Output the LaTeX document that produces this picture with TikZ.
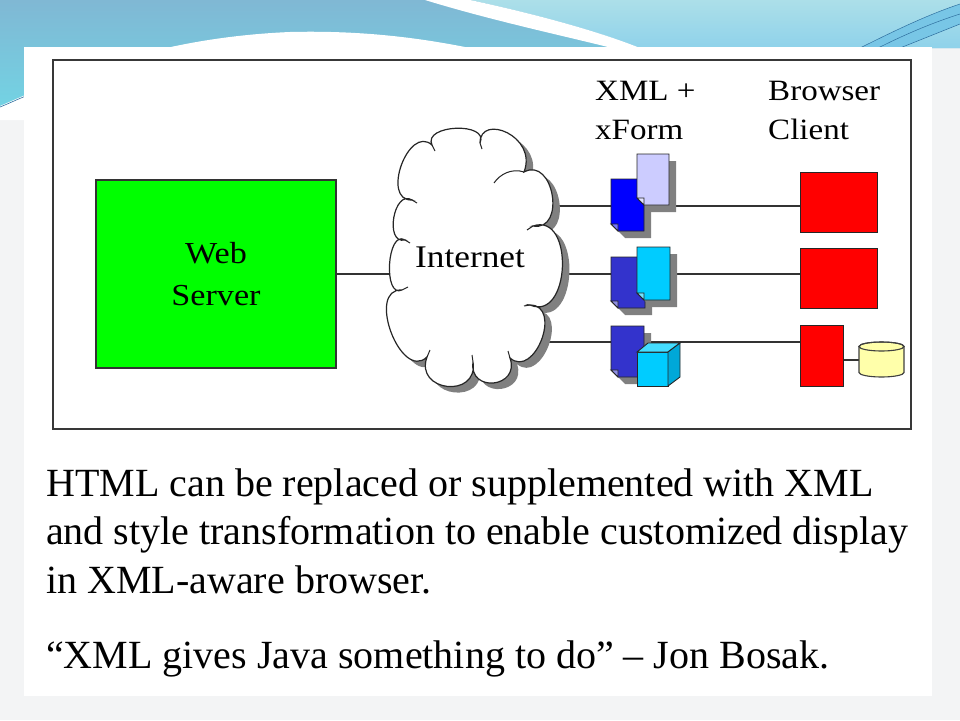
\documentclass[tikz,border=0pt]{standalone}
\usepackage{fontspec}
\setmainfont{Liberation Serif}
\newfontfamily\dfont[FakeStretch=1.12]{Liberation Serif}
\definecolor{bgc}{HTML}{F3F4F5}
\definecolor{bandtop}{HTML}{80B8D4}
\definecolor{bandbot}{HTML}{72D4E4}
\definecolor{lighttop}{HTML}{ACDFE9}
\definecolor{lightbot}{HTML}{8FD2EA}
\definecolor{wedge}{HTML}{78C6E6}
\definecolor{thinline}{HTML}{2F6F9F}
\definecolor{lavdoc}{HTML}{CCCCFF}
\definecolor{bluedoc}{HTML}{0000FF}
\definecolor{navydoc}{HTML}{3333CC}
\definecolor{cyandoc}{HTML}{00CCFF}
\definecolor{cubetop}{HTML}{44DDFF}
\definecolor{cubeside}{HTML}{00A8D8}
\definecolor{redc}{HTML}{FF0000}
\definecolor{greenc}{HTML}{00FF00}
\definecolor{cylc}{HTML}{FFFFAA}
\definecolor{shadowc}{HTML}{808080}
\definecolor{linec}{HTML}{333333}
\tikzset{
  conn/.style={draw=linec, line width=1.3},
  docline/.style={draw=black!85, line width=0.9},
  docshadow/.style={fill=shadowc},
  redbox/.style={draw=black!85, line width=1, fill=redc, inner sep=0},
  wsbox/.style={draw=black!80, line width=1.1, fill=greenc, inner sep=0},
  lbl/.style={inner sep=0, font=\dfont\fontsize{29.5}{35}\selectfont},
  btext/.style={inner sep=0, anchor=base west, font=\fontsize{40}{48}\selectfont},
}
\newcommand\cloudpath{(412,200)
 .. controls (380.5,201) and (408.5,124) .. (432,145)
 .. controls (422.4,124.4) and (489.6,121.6) .. (480,143)
 .. controls (480,113) and (538,136) .. (524,172)
 .. controls (553.8,156.1) and (566.4,231.7) .. (533,226)
 .. controls (574.8,211.8) and (570.6,322.4) .. (530,305)
 .. controls (562.8,305.1) and (534.8,379.3) .. (510,358)
 .. controls (520.4,387.8) and (468.6,393.4) .. (473,362)
 .. controls (478.6,398.9) and (414.2,391.9) .. (427,357)
 .. controls (400.7,382) and (365.7,288.2) .. (402,290)
 .. controls (382.8,298.9) and (387,228.9) .. (405,240)
 .. controls (384,244.6) and (393.8,188.6) .. (412,200) -- cycle}
\newcommand\mydoc[5]{%
  \fill[docshadow] (#1+7,#2+7) -- (#3+7,#2+7) -- (#3+7,#4+7) -- (#1+14,#4+7) -- (#1+7,#4) -- cycle;
  \filldraw[docline, fill=#5] (#1,#2) -- (#3,#2) -- (#3,#4) -- (#1+7,#4) -- (#1,#4-7) -- cycle;
  \filldraw[docline, fill=#5!55!white] (#1,#4-7) -- (#1+7,#4-7) -- (#1+7,#4) -- cycle;
}
\begin{document}
\begin{tikzpicture}[x=1pt,y=-1pt]
\useasboundingbox (0,0) rectangle (960,720);
% background
\fill[bgc] (0,0) rectangle (960,720);
% top band
\shade[top color=bandtop, bottom color=bandbot] (0,0) -- (960,0) -- (960,48) -- (24,48) -- (24,112) -- (0,112) -- cycle;
\shade[top color=lighttop, bottom color=lightbot] (470,0) .. controls (540,15) and (600,32) .. (640,48) -- (960,48) -- (960,0) -- cycle;
\fill[white] (425,0) .. controls (490,20) and (560,35) .. (612,48) -- (640,48) .. controls (600,32) and (540,15) .. (470,0) -- cycle;
\fill[white] (0,106) .. controls (60,80) and (150,38) .. (290,32) .. controls (370,30) and (430,40) .. (470,48) -- (470,120) -- (0,120) -- cycle;
\draw[thinline, line width=0.6] (0,107) .. controls (10,103) and (18,99) .. (26,96);
\fill[wedge] (860,48) .. controls (900,28) and (930,14) .. (960,4) -- (960,24) .. controls (940,32) and (920,40) .. (900,48) -- cycle;
\draw[thinline, line width=0.5] (860,48) .. controls (900,28) and (930,14) .. (960,4);
\draw[thinline, line width=0.5] (878,48) .. controls (910,32) and (935,22) .. (960,14);
\draw[thinline, line width=0.5] (900,48) .. controls (920,40) and (940,32) .. (960,24);
% panel
\fill[white] (24,47) rectangle (932,696);
% frame
\draw[draw=black!78, line width=1.8] (53,60) rectangle (911,429);
% nodes
\node[wsbox, minimum width=240, minimum height=188, align=center, font=\dfont\fontsize{30.5}{42}\selectfont] (web) at (216,274) {Web\\Server};
\node[redbox, minimum width=77, minimum height=60] (rb1) at (838.5,202) {};
\node[redbox, minimum width=77, minimum height=60] (rb2) at (838.5,278) {};
\node[redbox, minimum width=43, minimum height=61] (rb3) at (821.5,355.5) {};
\node[inner sep=0, minimum width=45, minimum height=35] (db) at (881.5,360) {};
% cloud anchor coordinates
\coordinate (cl0) at (405,274);
\coordinate (cr1) at (540,206);
\coordinate (cr2) at (545,274);
\coordinate (cr3) at (530,342);
% connectors
\draw[conn] (web.east) -- (cl0);
\draw[conn] (cr1) -- (cr1 -| rb1.west);
\draw[conn] (cr2) -- (cr2 -| rb2.west);
\draw[conn] (cr3) -- (cr3 -| rb3.west);
\draw[conn] (rb3.east |- db.west) -- (db.west);
% cloud
\fill[shadowc, shift={(7,6)}] \cloudpath;
\filldraw[fill=white, draw=black!85, line width=1.2] \cloudpath;
\begin{scope}[draw=black!85, line width=1]
\draw (524,172) .. controls (512,168) and (500,174) .. (494,183);
\draw (432,145) -- (435,151);
\draw (480,143) -- (482,149);
\draw (533,226) -- (527,230);
\draw (530,305) -- (524,306);
\draw (510,358) -- (508,351);
\draw (473,362) -- (472,355);
\draw (427,357) -- (430,350);
\draw (402,290) -- (408,287);
\draw (405,240) -- (410,243);
\draw (412,200) -- (417,203);
\end{scope}
\node[inner sep=0, anchor=base, font=\dfont\fontsize{31.5}{36}\selectfont] (inet) at (470,267) {Internet};
% documents row 1
\mydoc{611}{179}{644}{231}{bluedoc}
\mydoc{637}{154}{669}{205}{lavdoc}
% row 2
\mydoc{611}{257}{645}{308}{navydoc}
\mydoc{637}{247}{670}{300}{cyandoc}
% row 3
\mydoc{611}{326}{644}{377}{navydoc}
\filldraw[docline, fill=cyandoc] (637,352) rectangle (668,386);
\filldraw[docline, fill=cubetop] (637,352) -- (648,343) -- (680,343) -- (668,352) -- cycle;
\filldraw[docline, fill=cubeside] (668,352) -- (680,343) -- (680,377) -- (668,386) -- cycle;
% cylinder
\filldraw[fill=cylc, draw=black!75, line width=1.1] (859,346.5) -- (859,372.5) arc[start angle=180, end angle=0, x radius=22.5, y radius=4.5] -- (904,346.5) arc[start angle=0, end angle=-180, x radius=22.5, y radius=4.5] -- cycle;
\draw[black!75, line width=1.1] (881.5,346.5) ellipse[x radius=22.5, y radius=4.5];
% labels
\node[lbl, anchor=base west] (xml) at (595,100) {XML +};
\node[lbl, anchor=base west] (xform) at (595,139) {xForm};
\node[lbl, anchor=base west] (brow) at (768,100) {Browser};
\node[lbl, anchor=base west] (cli) at (768,139) {Client};
% bottom text
\node[btext] (t1) at (46,496) {HTML can be replaced or supplemented with XML};
\node[btext] (t2) at (46,544) {and style transformation to enable customized display};
\node[btext] (t3) at (46,593) {in XML-aware browser.};
\node[btext] (t4) at (46,668) {“XML gives Java something to do” – Jon Bosak.};
\end{tikzpicture}
\end{document}
